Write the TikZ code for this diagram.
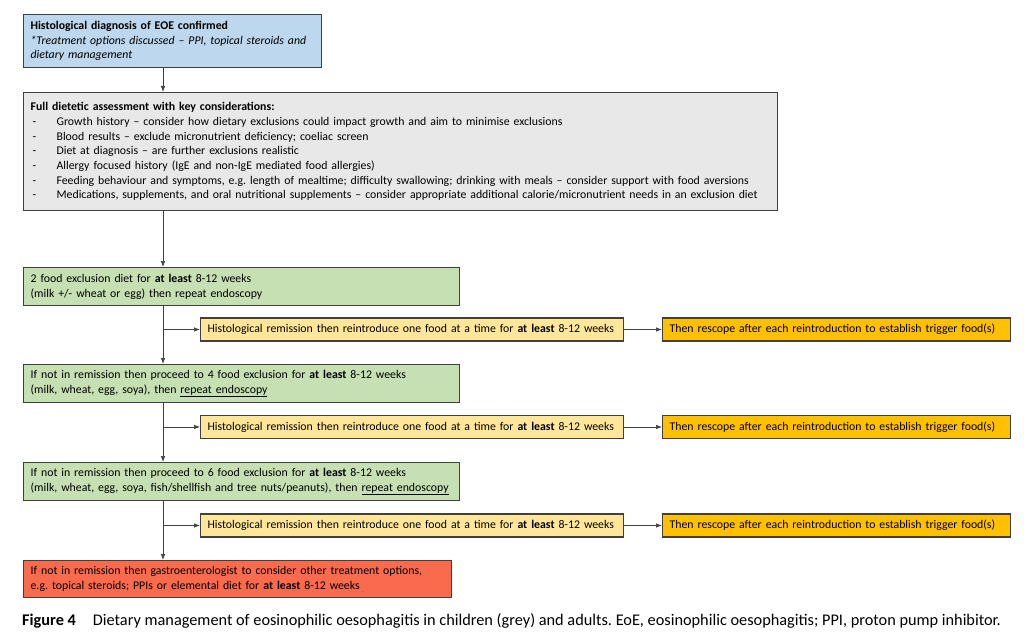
\documentclass[tikz,border=0pt]{standalone}
\usepackage{fontspec}
\setmainfont{Carlito}
\usepackage{tikz}
\usetikzlibrary{arrows.meta}
\definecolor{azzurro}{HTML}{BDD7EE}
\definecolor{grigio}{HTML}{E8E8E8}
\definecolor{verde}{HTML}{C6E0B4}
\definecolor{giallo}{HTML}{FFE699}
\definecolor{arancio}{HTML}{FFC000}
\definecolor{rosso}{HTML}{FA6A4C}
\definecolor{bordo}{HTML}{404040}
\newcommand{\voce}[1]{\makebox[26pt][l]{\hspace{2pt}-}#1}
\frenchspacing

\begin{document}
\begin{tikzpicture}[x=1pt, y=-1pt,
        scatola/.style={draw=bordo, line width=1.2pt, inner xsep=7pt, inner ysep=2pt,
            align=left, font=\fontsize{11.8}{14.7}\selectfont},
        freccia/.style={draw=bordo, line width=0.7pt, -{Latex[length=6pt,width=4.5pt]}}]
        \useasboundingbox (0,0) rectangle (1024,639);
        % Asse verticale del percorso
        \def\sx{163}
        \coordinate (asse) at (\sx,0);
        % Diagnosi
        \node[scatola, fill=azzurro, anchor=north west, minimum width=298pt, minimum height=53pt,
            text width=284pt] (diagnosi) at (23,14)
        {\textbf{Histological diagnosis of EOE confirmed}\\
         \textit{*Treatment options discussed -- PPI, topical steroids and}\\
         \textit{dietary management}};
        % Valutazione dietetica
        \node[scatola, fill=grigio, anchor=north west, minimum width=754pt, minimum height=118pt,
            text width=740pt] (valutazione) at (23,92)
        {\textbf{Full dietetic assessment with key considerations:}\\
         \voce{Growth history -- consider how dietary exclusions could impact growth and aim to minimise exclusions}\\
         \voce{Blood results -- exclude micronutrient deficiency; coeliac screen}\\
         \voce{Diet at diagnosis -- are further exclusions realistic}\\
         \voce{Allergy focused history (IgE and non-IgE mediated food allergies)}\\
         \voce{Feeding behaviour and symptoms, e.g. length of mealtime; difficulty swallowing; drinking with meals -- consider support with food aversions}\\
         \voce{Medications, supplements, and oral nutritional supplements -- consider appropriate additional calorie/micronutrient needs in an exclusion diet}};
        % Diete di esclusione
        \node[scatola, fill=verde, anchor=north west, minimum width=436pt, minimum height=38pt,
            text width=422pt] (dieta2) at (23,267)
        {2 food exclusion diet for \textbf{at least} 8-12 weeks\\
         (milk +/- wheat or egg) then repeat endoscopy};
        \node[scatola, fill=verde, anchor=north west, minimum width=436pt, minimum height=38pt,
            text width=422pt] (dieta4) at (23,364)
        {If not in remission then proceed to 4 food exclusion for \textbf{at least} 8-12 weeks\\
         (milk, wheat, egg, soya), then \underline{repeat endoscopy}};
        \node[scatola, fill=verde, anchor=north west, minimum width=436pt, minimum height=38pt,
            text width=422pt] (dieta6) at (23,462)
        {If not in remission then proceed to 6 food exclusion for \textbf{at least} 8-12 weeks\\
         (milk, wheat, egg, soya, fish/shellfish and tree nuts/peanuts), then \underline{repeat endoscopy}};
        \node[scatola, fill=rosso, anchor=north west, minimum width=428pt, minimum height=37pt,
            text width=414pt] (altre) at (23,560)
        {If not in remission then gastroenterologist to consider other treatment options,\\
         e.g. topical steroids; PPIs or elemental diet for \textbf{at least} 8-12 weeks};
        % Remissione e reintroduzione
        \node[scatola, fill=giallo, anchor=west, minimum width=423pt, minimum height=23pt,
            text width=409pt] (remiss1) at (200,329.5)
        {Histological remission then reintroduce one food at a time for \textbf{at least} 8-12 weeks};
        \node[scatola, fill=arancio, anchor=west, minimum width=348pt, minimum height=23pt,
            text width=334pt] (rescope1) at (662,329.5)
        {Then rescope after each reintroduction to establish trigger food(s)};
        \node[scatola, fill=giallo, anchor=west, minimum width=423pt, minimum height=23pt,
            text width=409pt] (remiss2) at (200,427)
        {Histological remission then reintroduce one food at a time for \textbf{at least} 8-12 weeks};
        \node[scatola, fill=arancio, anchor=west, minimum width=348pt, minimum height=23pt,
            text width=334pt] (rescope2) at (662,427)
        {Then rescope after each reintroduction to establish trigger food(s)};
        \node[scatola, fill=giallo, anchor=west, minimum width=423pt, minimum height=23pt,
            text width=409pt] (remiss3) at (200,525.5)
        {Histological remission then reintroduce one food at a time for \textbf{at least} 8-12 weeks};
        \node[scatola, fill=arancio, anchor=west, minimum width=348pt, minimum height=23pt,
            text width=334pt] (rescope3) at (662,525.5)
        {Then rescope after each reintroduction to establish trigger food(s)};
        % Frecce verticali
        \draw[freccia] (diagnosi.south -| asse) -- (valutazione.north -| asse);
        \draw[freccia] (valutazione.south -| asse) -- (dieta2.north -| asse);
        \draw[freccia] (dieta2.south -| asse) -- (dieta4.north -| asse);
        \draw[freccia] (dieta4.south -| asse) -- (dieta6.north -| asse);
        \draw[freccia] (dieta6.south -| asse) -- (altre.north -| asse);
        % Diramazioni
        \draw[freccia] (asse |- remiss1.west) -- (remiss1.west);
        \draw[freccia] (remiss1.east) -- (rescope1.west);
        \draw[freccia] (asse |- remiss2.west) -- (remiss2.west);
        \draw[freccia] (remiss2.east) -- (rescope2.west);
        \draw[freccia] (asse |- remiss3.west) -- (remiss3.west);
        \draw[freccia] (remiss3.east) -- (rescope3.west);
        % Didascalia
        \node[anchor=base west, inner sep=0pt, font=\fontsize{16.3}{19}\selectfont] (didascalia) at (22,625)
        {\textbf{Figure 4}\hspace{17pt}Dietary management of eosinophilic oesophagitis in children (grey) and adults. EoE, eosinophilic oesophagitis; PPI, proton pump inhibitor.};
    \end{tikzpicture}
\end{document}
